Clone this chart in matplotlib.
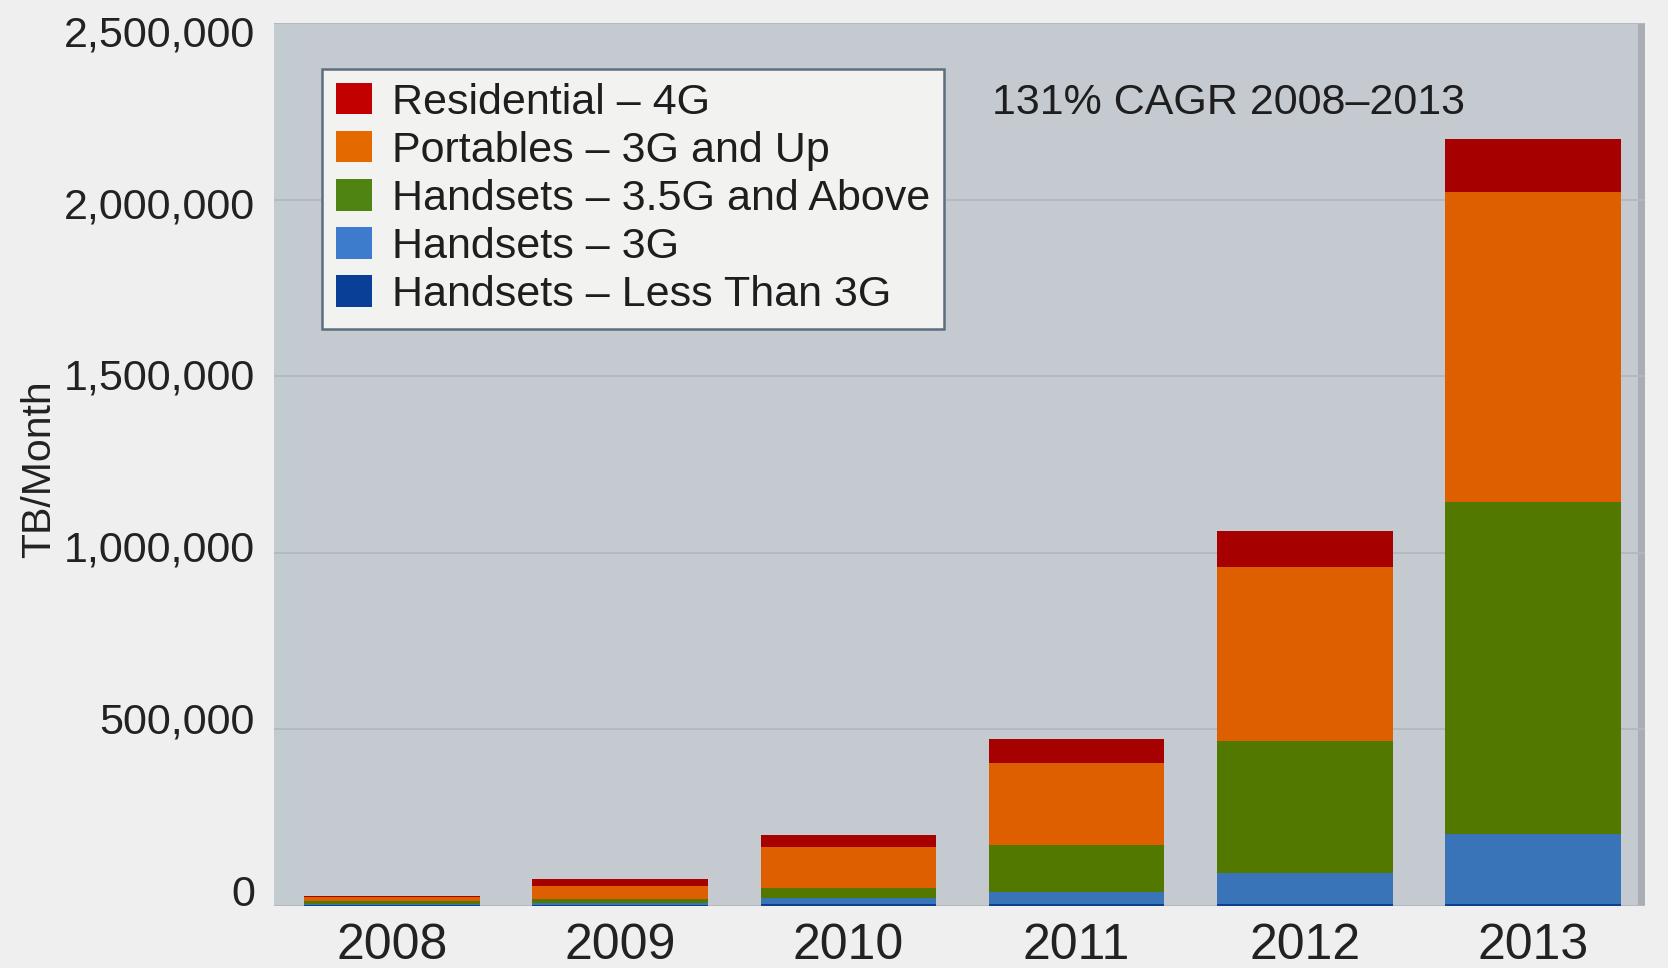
"""Stacked bar chart of mobile data traffic by device type, 2008-2013."""
import matplotlib
matplotlib.use("Agg")
import matplotlib.pyplot as plt
from matplotlib.patches import Patch, Rectangle
from matplotlib.ticker import FuncFormatter
import numpy as np

plt.rcParams["font.family"] = ["Liberation Sans", "DejaVu Sans"]

years = ["2008", "2009", "2010", "2011", "2012", "2013"]

# TB per month, bottom of the stack first
less_than_3g = [2000, 3000, 6000, 6000, 5000, 5000]
handsets_3g = [3000, 5000, 18000, 33000, 90000, 200000]
handsets_35g = [8000, 12000, 28000, 133000, 371000, 938000]
portables = [13000, 36000, 115000, 232000, 494000, 880000]
residential = [3000, 20000, 33000, 69000, 102000, 150000]

series_names = [
    "Handsets – Less Than 3G",
    "Handsets – 3G",
    "Handsets – 3.5G and Above",
    "Portables – 3G and Up",
    "Residential – 4G",
]
series_values = [less_than_3g, handsets_3g, handsets_35g, portables, residential]
bar_colors = ["#0b3f8f", "#3a74b8", "#527800", "#de5f00", "#a60000"]
legend_colors = ["#0a3f98", "#3d7ccc", "#4f8412", "#e46a00", "#c20000"]

cagr_note = "131% CAGR 2008–2013"
y_ticks = [0, 500000, 1000000, 1500000, 2000000, 2500000]

rect = [0.164, 0.064, 0.822, 0.912]
fig = plt.figure(figsize=(16.68, 9.68), dpi=100, facecolor="#efefef")
ax = fig.add_axes(rect)
ax.set_facecolor("#c5c9d0")

x = np.arange(len(years))
bottom = np.zeros(len(years))
for vals, color in zip(series_values, bar_colors):
    ax.bar(x, vals, width=0.77, bottom=bottom, color=color, linewidth=0, zorder=3)
    bottom += np.array(vals)

# side walls of the backdrop
ax.add_patch(Rectangle((0, 0), 0.022, 1, transform=ax.transAxes,
                       facecolor="#c2ccd0", edgecolor="none", zorder=1))
ax.add_patch(Rectangle((0.995, 0), 0.005, 1, transform=ax.transAxes,
                       facecolor="#a9aeb5", edgecolor="none", zorder=1))

ax.set_xlim(-0.52, 5.49)
ax.set_ylim(0, 2500000)
ax.set_yticks(y_ticks)
ax.set_yticklabels([])
ax.set_xticks(x)
ax.set_xticklabels(years)
ax.grid(axis="y", color="#b3b7be", linewidth=1.3, zorder=2)
ax.tick_params(axis="y", length=0)
ax.tick_params(axis="x", length=0, pad=12, labelsize=36, labelcolor="#222222")
for spine in ax.spines.values():
    spine.set_visible(False)

# value labels sit on the back wall, so their scale is a bit tighter
lab = fig.add_axes(rect, frameon=False)
lab.patch.set_visible(False)
lab.set_ylim(-46400, 2521700)
lab.set_yticks(y_ticks)
lab.yaxis.set_major_formatter(FuncFormatter(lambda v, p: f"{int(v):,}"))
lab.set_xticks([])
lab.tick_params(axis="y", length=0, pad=13.5, labelsize=31, labelcolor="#222222")

fig.text(0.012, 0.515, "TB/Month", rotation=90, fontsize=29.5, color="#222222",
         ha="left", va="center")

ax.text(0.524, 0.91, cagr_note, transform=ax.transAxes, fontsize=31,
        color="#1e1e1e", ha="left", va="center")

handles = [Patch(facecolor=c, edgecolor="none") for c in legend_colors]
leg = fig.legend(
    handles[::-1], series_names[::-1],
    loc="upper left", bbox_to_anchor=(0.193, 0.929),
    fontsize=31, frameon=True, fancybox=False,
    handlelength=0.85, handleheight=0.75, handletextpad=0.45,
    labelspacing=0.19, borderpad=0.32, borderaxespad=0,
)
frame = leg.get_frame()
frame.set_facecolor("#f2f2f0")
frame.set_edgecolor("#5d6f7e")
frame.set_linewidth(1.8)
frame.set_alpha(1)
for t in leg.get_texts():
    t.set_color("#1e1e1e")

fig.savefig("out.png", dpi=100, facecolor=fig.get_facecolor())
